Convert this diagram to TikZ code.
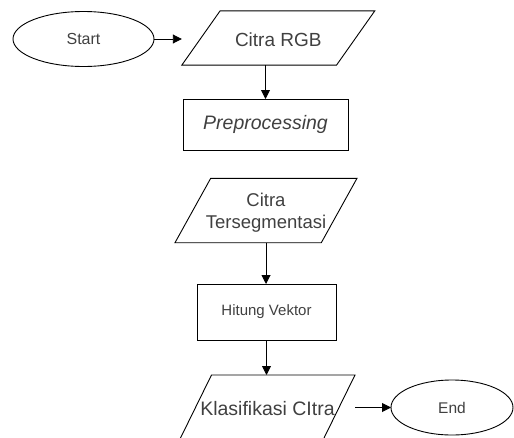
\documentclass[tikz,border=0pt]{standalone}
\usepackage{fontspec}
\setmainfont{Liberation Sans}
\usetikzlibrary{shapes.geometric,arrows.meta}
\tikzset{
  terminal/.style={ellipse, draw, minimum height=55pt, inner sep=0pt, outer sep=0pt},
  data/.style={trapezium, trapezium stretches body, draw, inner ysep=0pt, inner xsep=-40pt, outer sep=0pt, align=center},
  process/.style={rectangle, draw, inner sep=0pt, outer sep=0pt},
  flow/.style={-{Triangle[length=9pt,width=9pt]}}
}
\begin{document}
\begin{tikzpicture}[x=1pt,y=-1pt,line width=0.9pt,text=black!75]
  \useasboundingbox (0,0) rectangle (514,437);
  % start and input
  \node[terminal, minimum width=141pt, font=\fontsize{16}{18}\selectfont] (start) at (83.5,39) {Start};
  \node[data, trapezium left angle=54.8, trapezium right angle=125.2, text height=36pt, text depth=18.3pt,
        minimum width=193pt, font=\fontsize{19}{22}\selectfont] (rgb) at (278.3,38) {Citra RGB};
  \node[process, minimum width=165pt, minimum height=51pt, font=\fontsize{19.5}{22}\selectfont\itshape] (prep) at (265.5,124.5) {Preprocessing};
  % second part
  \node[data, trapezium left angle=61, trapezium right angle=119, text height=50pt, text depth=14.4pt,
        minimum width=182pt, font=\fontsize{18.5}{21.6}\selectfont] (seg) at (266,210.5) {Citra\\Tersegmentasi};
  \node[process, minimum width=139pt, minimum height=56pt, font=\fontsize{15}{18}\selectfont] (vek) at (266.5,312) {Hitung Vektor};
  \node[data, trapezium left angle=63.8, trapezium right angle=116.2, text height=40pt, text depth=24pt,
        minimum width=175pt, font=\fontsize{19.5}{22}\selectfont] (klas) at (267.5,407) {Klasifikasi CItra};
  \node[terminal, minimum width=122pt, font=\fontsize{15.5}{18}\selectfont] (end) at (452,407.5) {End};
  % arrows
  \draw[flow] (start.east) -- (start -| rgb.bottom left corner);
  \draw[flow] (prep.north |- rgb.south) -- (prep.north);
  \draw[flow] (seg.south) -- (seg.south |- vek.north);
  \draw[flow] (vek.south) -- (vek.south |- klas.north);
  \draw[flow] (end -| klas.top right corner) -- (end.west);
\end{tikzpicture}
\end{document}
